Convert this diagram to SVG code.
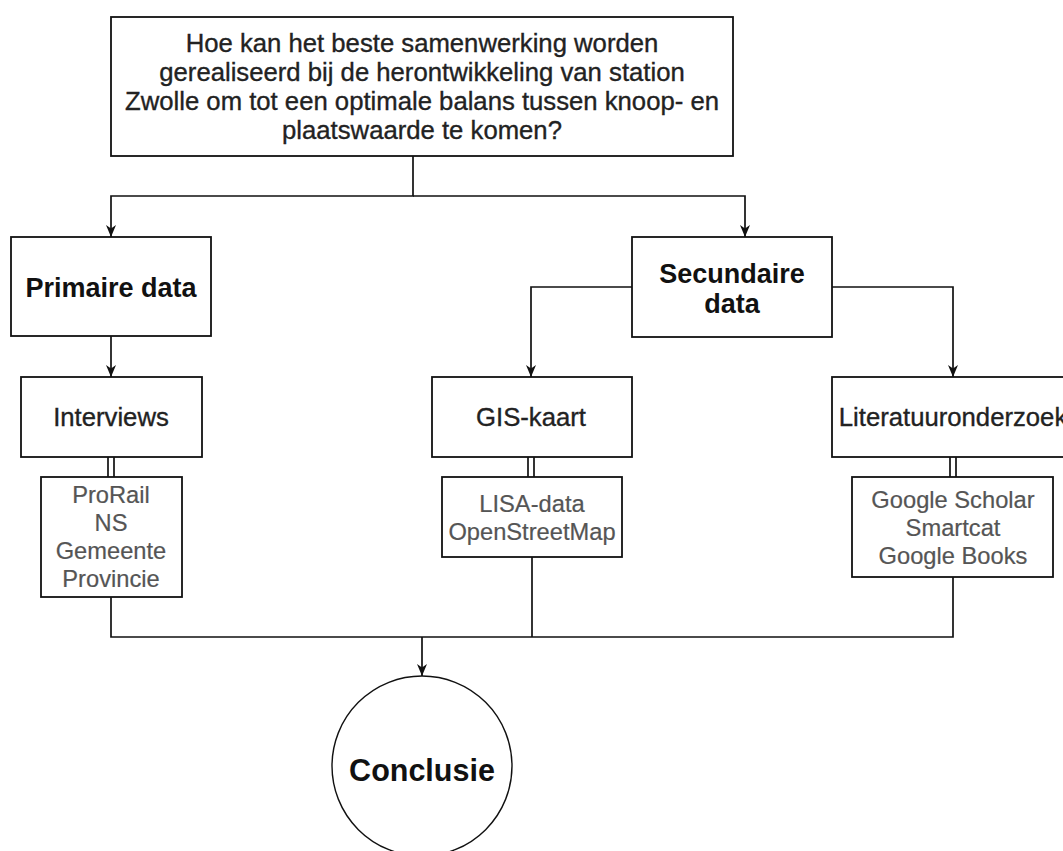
<svg xmlns="http://www.w3.org/2000/svg" width="1063" height="851" viewBox="0 0 1063 851">
<style>
.box{fill:#fff;stroke:#111;stroke-width:1.8}
.ln{fill:none;stroke:#111;stroke-width:1.7}
.q{font-family:"Liberation Sans",Arial,sans-serif;font-size:25.7px;fill:#222;stroke:#222;stroke-width:0.35;text-anchor:middle}
.b{font-family:"Liberation Sans",Arial,sans-serif;font-size:27px;font-weight:bold;fill:#111;text-anchor:middle}
.g{font-family:"Liberation Sans",Arial,sans-serif;font-size:23.7px;fill:#555;stroke:#555;stroke-width:0.2;text-anchor:middle}
.c{font-family:"Liberation Sans",Arial,sans-serif;font-size:30.5px;font-weight:bold;fill:#111;text-anchor:middle}
</style>
<defs>
<marker id="arr" viewBox="0 0 12 10" refX="12" refY="5" markerWidth="12" markerHeight="10" markerUnits="userSpaceOnUse" orient="auto">
<path d="M0,0 L12,5 L0,10 L3.5,5 Z" fill="#111"/>
</marker>
</defs>
<rect width="1063" height="851" fill="#fff"/>
<g id="connectors">
<path class="ln" d="M413,156 V196 H111 V237" marker-end="url(#arr)"/>
<path class="ln" d="M413,196 H745 V237" marker-end="url(#arr)"/>
<path class="ln" d="M111,336 V377" marker-end="url(#arr)"/>
<path class="ln" d="M632,287 H531 V377" marker-end="url(#arr)"/>
<path class="ln" d="M832,287 H953 V377" marker-end="url(#arr)"/>
<path class="ln" d="M108,457 V477 M114,457 V477"/>
<path class="ln" d="M528,457 V477 M534,457 V477"/>
<path class="ln" d="M950,457 V477 M956,457 V477"/>
<path class="ln" d="M111,597 V637 H953 V577"/>
<path class="ln" d="M532,557 V637"/>
<path class="ln" d="M422,637 V676" marker-end="url(#arr)"/>
</g>
<g id="question">
<rect class="box" x="111" y="17" width="622" height="139"/>
<text class="q" x="422" y="52">Hoe kan het beste samenwerking worden</text>
<text class="q" x="422" y="81">gerealiseerd bij de herontwikkeling van station</text>
<text class="q" x="422" y="110">Zwolle om tot een optimale balans tussen knoop- en</text>
<text class="q" x="422" y="139">plaatswaarde te komen?</text>
</g>
<g id="primaire">
<rect class="box" x="11" y="237" width="200" height="99"/>
<text class="b" x="111" y="297">Primaire data</text>
</g>
<g id="secundaire">
<rect class="box" x="632" y="237" width="200" height="100"/>
<text class="b" x="732" y="283">Secundaire</text>
<text class="b" x="732" y="313">data</text>
</g>
<g id="interviews">
<rect class="box" x="21" y="377" width="181" height="80"/>
<text class="q" x="111" y="426">Interviews</text>
</g>
<g id="gis">
<rect class="box" x="432" y="377" width="200" height="80"/>
<text class="q" x="531" y="426">GIS-kaart</text>
</g>
<g id="literatuur">
<rect class="box" x="832" y="377" width="240" height="80"/>
<text class="q" x="953" y="426">Literatuuronderzoek</text>
</g>
<g id="bronnen-primair">
<rect class="box" x="41" y="477" width="141" height="120"/>
<text class="g" x="111" y="503">ProRail</text>
<text class="g" x="111" y="531">NS</text>
<text class="g" x="111" y="559">Gemeente</text>
<text class="g" x="111" y="587">Provincie</text>
</g>
<g id="bronnen-gis">
<rect class="box" x="442" y="477" width="180" height="80"/>
<text class="g" x="532" y="512">LISA-data</text>
<text class="g" x="532" y="540">OpenStreetMap</text>
</g>
<g id="bronnen-literatuur">
<rect class="box" x="852" y="477" width="201" height="100"/>
<text class="g" x="953" y="508">Google Scholar</text>
<text class="g" x="953" y="536">Smartcat</text>
<text class="g" x="953" y="564">Google Books</text>
</g>
<g id="conclusie">
<circle cx="422" cy="766" r="90" fill="#fff" stroke="#111" stroke-width="1.4"/>
<text class="c" x="422" y="781">Conclusie</text>
</g>
</svg>
